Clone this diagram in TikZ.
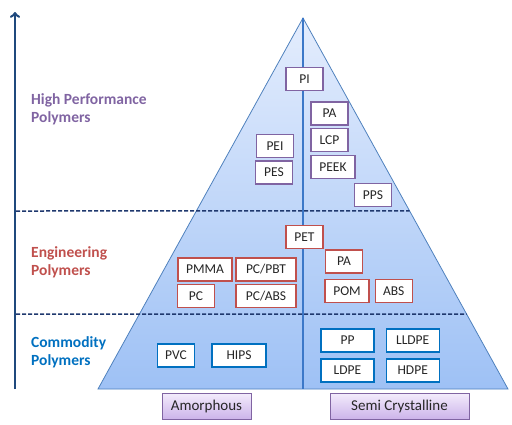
\documentclass[tikz,border=0pt]{standalone}
\usepackage{fontspec}
\setmainfont{Carlito}
\usepackage{tikz}
\usetikzlibrary{arrows,positioning,calc}
\usepackage{xcolor}
\definecolor{axisblue}{RGB}{31,73,125}
\definecolor{dashnavy}{RGB}{31,56,110}
\definecolor{edgeblue}{RGB}{79,129,189}
\definecolor{midblue}{RGB}{60,120,200}
\definecolor{tritop}{RGB}{228,237,253}
\definecolor{tribot}{RGB}{158,193,245}
\definecolor{hppurple}{RGB}{128,100,162}
\definecolor{engred}{RGB}{192,80,77}
\definecolor{comblue}{RGB}{0,112,192}
\definecolor{catlight}{RGB}{243,236,252}
\definecolor{catdark}{RGB}{204,180,234}
\tikzstyle{polybox} = [rectangle, fill=white, line width=1.2pt, minimum width=37pt, minimum height=23pt, inner sep=2pt, text=black!85, font=\fontsize{13.5}{15}\selectfont]
\tikzstyle{hpbox} = [polybox, draw=hppurple]
\tikzstyle{engbox} = [polybox, draw=engred]
\tikzstyle{combox} = [polybox, draw=comblue]
\tikzstyle{level} = [anchor=west, inner sep=0pt, align=left, font=\fontsize{15.5}{18}\selectfont\bfseries]
\tikzstyle{catbox} = [rectangle, top color=catlight, bottom color=catdark, draw=hppurple, line width=1pt, minimum height=26pt, text=black!85, font=\fontsize{15}{17}\selectfont]
\tikzstyle{divider} = [dashnavy, line width=1.5pt, dash pattern=on 4pt off 2pt]

\begin{document}
\begin{tikzpicture}[x=1pt, y=-1pt]
\useasboundingbox (0,0) rectangle (512,424);

% Pyramid
\coordinate (apex) at (303,18);
\coordinate (bl) at (98,389);
\coordinate (br) at (508,389);
\coordinate (bm) at (303,389);
\shade[top color=tritop, bottom color=tribot] (apex) -- (bl) -- (br) -- cycle;
\draw[edgeblue, line width=0.8pt] (apex) -- (bl) -- (br) -- cycle;
\draw[midblue, line width=2pt] (apex) -- (bm);

% Axis and dividers
\coordinate (axbot) at (15,389);
\coordinate (axtop) at (15,12);
\draw[->, axisblue, line width=2.5pt] (axbot) -- (axtop);
\coordinate (hpend) at ($(apex)!0.520!(br)$);
\coordinate (engend) at ($(apex)!0.798!(br)$);
\draw[divider] (16,211) -- (hpend);
\draw[divider] (16,314) -- (engend);

% Levels
\node (highperf) [level, text=hppurple] at (31,109) {High Performance\\Polymers};
\node (engineering) [level, text=engred] at (31,262) {Engineering\\Polymers};
\node (commodity) [level, text=comblue] at (31,352) {Commodity\\Polymers};

% High performance polymers
\node (pi) [hpbox] at (304.5,79) {PI};
\node (pahp) [hpbox] at (329.5,113.5) {PA};
\node (lcp) [hpbox, below of=pahp, node distance=26.5pt] {LCP};
\node (peek) [hpbox, minimum width=44pt, below=3pt of lcp.south west, anchor=north west] {PEEK};
\node (pps) [hpbox] at (373,195) {PPS};
\node (pei) [hpbox] at (275,146) {PEI};
\node (pes) [hpbox, below of=pei, node distance=26.5pt, xshift=-1pt] {PES};

% Engineering polymers
\node (pet) [engbox] at (304.5,237) {PET};
\node (paeng) [engbox] at (344,261.5) {PA};
\node (pom) [engbox, minimum width=44pt] at (347,291) {POM};
\node (abs) [engbox, right=5pt of pom] {ABS};
\node (pmma) [engbox, minimum width=54pt] at (205,269.5) {PMMA};
\node (pc) [engbox] at (196,296) {PC};
\node (pcpbt) [engbox, minimum width=60pt] at (266,269.5) {PC/PBT};
\node (pcabs) [engbox, minimum width=60pt, below of=pcpbt, node distance=26.5pt] {PC/ABS};

% Commodity polymers
\node (pvc) [combox] at (176,355.5) {PVC};
\node (hips) [combox, minimum width=54pt] at (239,355.5) {HIPS};
\node (pp) [combox, minimum width=53pt] at (347.5,340.5) {PP};
\node (lldpe) [combox, minimum width=53pt, right=11pt of pp] {LLDPE};
\node (ldpe) [combox, minimum width=53pt, below of=pp, node distance=30pt] {LDPE};
\node (hdpe) [combox, minimum width=53pt, below of=lldpe, node distance=30pt] {HDPE};

% Categories
\node (amorph) [catbox, minimum width=89pt] at (206.5,406) {Amorphous};
\node (semicryst) [catbox, minimum width=139pt] at (399.5,406) {Semi Crystalline};
\end{tikzpicture}
\end{document}
